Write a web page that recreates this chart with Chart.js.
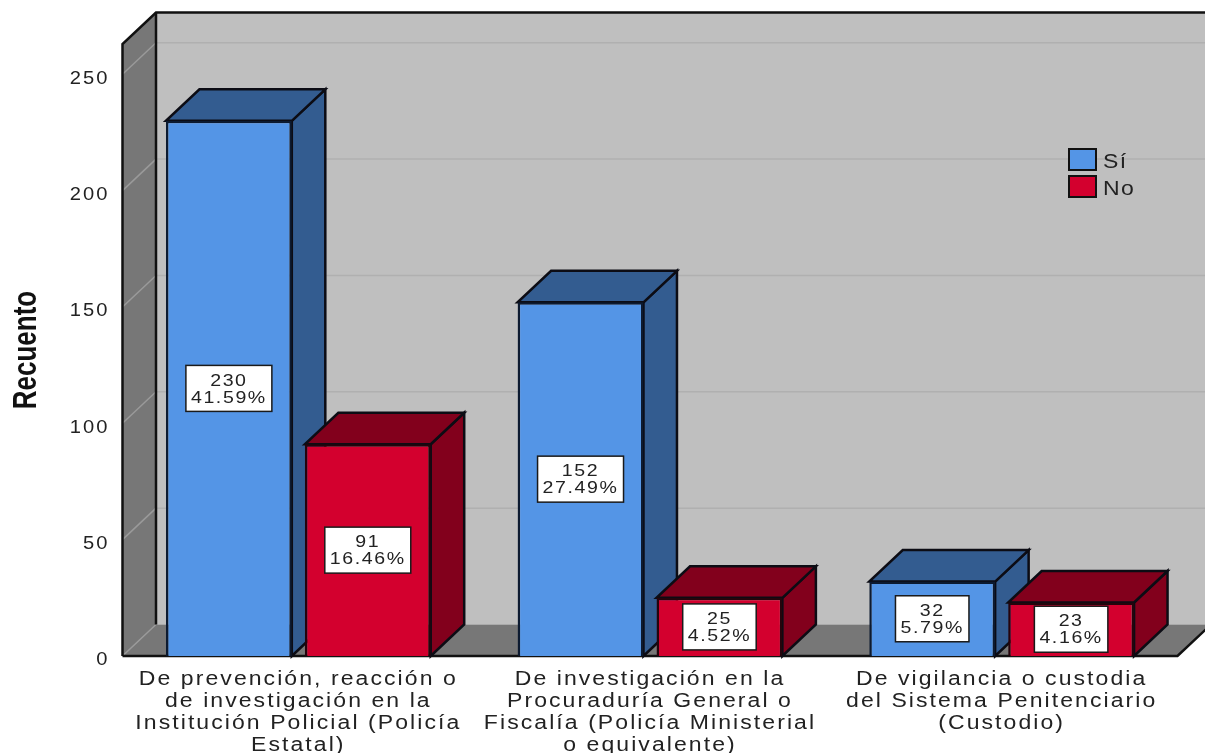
<!DOCTYPE html>
<html><head><meta charset="utf-8">
<style>html,body{margin:0;padding:0;background:#fff;overflow:hidden}canvas{display:block;filter:blur(.6px)}</style>
<script src="https://cdn.jsdelivr.net/npm/chart.js@4"></script>
</head><body><canvas id="c" width="1205" height="753"></canvas>
<script>
const categories = [
  ["De prevención, reacción o","de investigación en la","Institución Policial (Policía","Estatal)"],
  ["De investigación en la","Procuraduría General o","Fiscalía (Policía Ministerial","o equivalente)"],
  ["De vigilancia o custodia","del Sistema Penitenciario","(Custodio)"]
];
const siValues = [230,152,32];
const noValues = [91,25,23];
const siPercent = ["41.59%","27.49%","5.79%"];
const noPercent = ["16.46%","4.52%","4.16%"];
const yTicks = [0,50,100,150,200,250];
const DX=33.5, DY=-31.5, STRETCH=1.15, TITLE_STRETCH=1.25;
const FONT='"Liberation Sans"';
const colors={si:["#5495E6","#335C90"],no:["#D3002E","#82001C"]};

// The reference picture is stretched horizontally: do the same to its text.
const cv=document.getElementById('c');
const rawCtx=cv.getContext('2d');
const rawFill=rawCtx.fillText.bind(rawCtx);
rawCtx.fillText=function(t,x,y){
  const rotated=Math.abs(rawCtx.getTransform().b)>0.01;
  rawCtx.save();
  rawCtx.translate(x,y);
  if(rotated){rawCtx.letterSpacing='0px';rawCtx.scale(1,TITLE_STRETCH);}
  else{rawCtx.scale(STRETCH,1);}
  rawFill(t,0,rawCtx.textAlign==='right'&&!rotated?4.5:0);
  rawCtx.restore();
};

function poly(ctx,pts,fill,stroke,lw){
  ctx.beginPath();pts.forEach((p,i)=>i?ctx.lineTo(p[0],p[1]):ctx.moveTo(p[0],p[1]));ctx.closePath();
  if(fill){ctx.fillStyle=fill;ctx.fill();}
  if(stroke){ctx.strokeStyle=stroke;ctx.lineWidth=lw||2;ctx.stroke();}
}
const threeD={
  id:'threeD',
  beforeLayout(ch){ch.ctx.letterSpacing='1.8px';},
  beforeDraw(ch){ch.ctx.letterSpacing='1.8px';},
  beforeDatasetsDraw(ch){
    const c=ch.ctx,a=ch.chartArea,y=ch.scales.y;
    c.save();
    const L=a.left,R=a.right,T=a.top,B=a.bottom;
    c.fillStyle='#BFBFBF';c.fillRect(L+DX,T+DY,R-L,B-T);
    poly(c,[[L,B],[R,B],[R+DX,B+DY],[L+DX,B+DY]],'#777777');
    poly(c,[[L,B],[L,T],[L+DX,T+DY],[L+DX,B+DY]],'#777777');
    yTicks.forEach(v=>{
      const p=y.getPixelForValue(v);
      c.lineWidth=1.5;
      c.strokeStyle='#9A9A9A';c.beginPath();c.moveTo(L,p);c.lineTo(L+DX,p+DY);c.stroke();
      if(v>0){c.strokeStyle='#B0B0B0';c.beginPath();c.moveTo(L+DX,p+DY);c.lineTo(R+DX,p+DY);c.stroke();}
    });
    c.strokeStyle='#111';c.lineWidth=2.5;
    c.beginPath();c.moveTo(L,B);c.lineTo(L,T);c.lineTo(L+DX,T+DY);c.lineTo(R+DX,T+DY);c.stroke();
    c.beginPath();c.moveTo(L+DX,T+DY);c.lineTo(L+DX,B+DY);c.stroke();
    c.beginPath();c.moveTo(L,B);c.lineTo(R,B);c.lineTo(R+DX,B+DY);c.stroke();
    const items=[];
    ch.data.datasets.forEach((d,i)=>ch.getDatasetMeta(i).data.forEach(e=>items.push({e,k:d.key})));
    items.sort((p,q)=>p.e.x-q.e.x).forEach(({e,k})=>{
      const l=e.x-e.width/2,r=e.x+e.width/2,t=e.y,b=e.base,dk=colors[k][1];
      poly(c,[[r,t],[r,b],[r+DX,b+DY],[r+DX,t+DY]],dk,'#0c0c14',2.5);
      poly(c,[[l,t],[r,t],[r+DX,t+DY],[l+DX,t+DY]],dk,'#0c0c14',2.5);
    });
    c.restore();
  },
  afterDatasetsDraw(ch){
    const c=ch.ctx;
    c.save();
    c.letterSpacing='1.4px';
    c.font='17px '+FONT;c.textAlign='center';c.textBaseline='middle';
    ch.data.datasets.forEach((d,i)=>ch.getDatasetMeta(i).data.forEach((e,j)=>{
      const cy=(e.y+e.base)/2,cx=e.x,lines=[String(d.data[j]),d.pct[j]];
      const w=c.measureText(lines[1]).width*STRETCH+10,h=46;
      c.fillStyle='#fff';c.fillRect(cx-w/2,cy-h/2,w,h);
      c.strokeStyle='#1a1a1a';c.lineWidth=1.5;c.strokeRect(cx-w/2,cy-h/2,w,h);
      c.fillStyle='#222';
      c.fillText(lines[0],cx,cy-7.5);c.fillText(lines[1],cx,cy+9.5);
    }));
    c.letterSpacing='1.2px';c.font='20px '+FONT;c.textAlign='left';
    ch.data.datasets.forEach((d,i)=>{
      const y=149+i*27;
      c.fillStyle=colors[d.key][0];c.fillRect(1069,y,27,21);
      c.strokeStyle='#111';c.lineWidth=2;c.strokeRect(1069,y,27,21);
      c.fillStyle='#222';c.fillText(d.label,1103,y+13);
    });
    c.restore();
  }
};
new Chart(cv,{
  type:'bar',
  data:{labels:categories,datasets:[
    {label:'Sí',key:'si',data:siValues,pct:siPercent,backgroundColor:colors.si[0],borderColor:'#0c1a30',borderWidth:2.5},
    {label:'No',key:'no',data:noValues,pct:noPercent,backgroundColor:colors.no[0],borderColor:'#25040c',borderWidth:2.5}
  ]},
  plugins:[threeD],
  options:{
    responsive:false,animation:false,
    layout:{padding:{top:44,right:27.5,left:0,bottom:0}},
    datasets:{bar:{categoryPercentage:.79,barPercentage:.906}},
    plugins:{legend:{display:false},tooltip:{enabled:false}},
    scales:{
      x:{grid:{display:false,drawTicks:false},border:{display:false},
        afterFit(s){s.height=97;},
        ticks:{autoSkip:false,maxRotation:0,minRotation:0,padding:12,color:'#222',font:{family:FONT,size:20,lineHeight:'22px'}}},
      y:{min:0,max:263,grid:{display:false,drawTicks:false},border:{display:false},
        afterFit(s){s.width=122.5;},
        title:{display:true,text:'Recuento',color:'#111',padding:{top:11,bottom:0},font:{family:FONT,size:26,weight:'bold'}},
        ticks:{stepSize:50,includeBounds:false,padding:13,color:'#222',font:{family:FONT,size:17.5}}}
    }
  }
});
</script></body></html>
